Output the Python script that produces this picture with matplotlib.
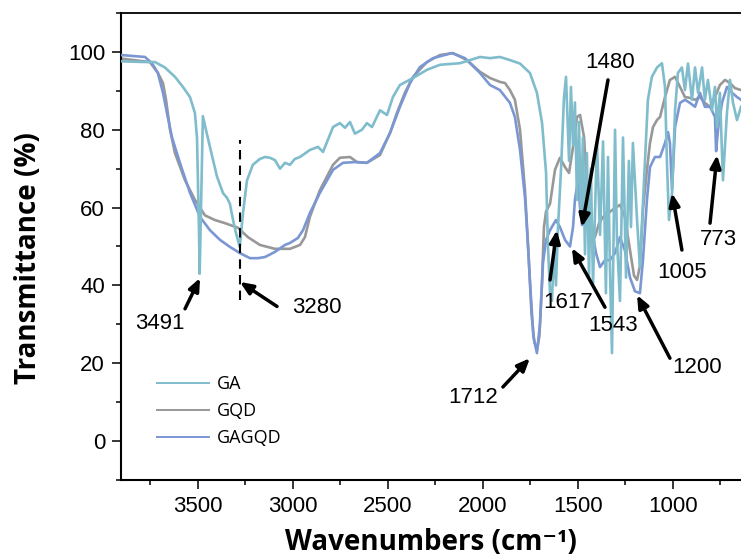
import matplotlib
matplotlib.use("Agg")
import matplotlib.pyplot as plt
from matplotlib.ticker import MultipleLocator

# ---------------- data ----------------
ga_wn = [3905, 3850, 3779, 3726, 3674, 3621, 3579, 3542, 3516, 3505, 3495, 3491, 3484, 3474,
         3458, 3437, 3400, 3368, 3347, 3332, 3316, 3300, 3280, 3263, 3242, 3211, 3174, 3147,
         3121, 3095, 3068, 3042, 3016, 2990, 2963, 2911, 2868, 2842, 2789, 2753, 2726, 2700,
         2674, 2637, 2611, 2584, 2542, 2505, 2474, 2437, 2368, 2295, 2226, 2121, 2016, 1963,
         1911, 1858, 1805, 1753, 1716, 1689, 1668, 1658, 1647, 1637, 1626, 1616, 1605, 1589,
         1574, 1563, 1553, 1547, 1537, 1526, 1516, 1505, 1495, 1484, 1474, 1463, 1453, 1442,
         1432, 1421, 1400, 1384, 1368, 1353, 1342, 1332, 1321, 1305, 1295, 1279, 1263, 1247,
         1232, 1221, 1211, 1189, 1174, 1147, 1132, 1111, 1084, 1058, 1042, 1032, 1021, 1005,
         989, 974, 953, 937, 921, 900, 884, 868, 847, 832, 816, 795, 779, 768, 753, 737, 716,
         700, 684, 663, 642]
ga_t = [97.6, 97.5, 97.4, 97.4, 96.0, 93.6, 91.0, 88.4, 84.3, 78.0, 55.0, 43.0, 60.0, 83.5,
        80.0, 75.6, 68.0, 63.7, 62.5, 61.0, 57.0, 53.5, 49.9, 58.6, 67.0, 71.0, 72.5, 73.0,
        72.8, 72.2, 70.0, 71.5, 71.0, 72.5, 73.0, 74.8, 75.6, 74.3, 80.7, 81.7, 80.5, 82.0,
        79.0, 80.0, 81.7, 80.7, 85.0, 83.8, 88.4, 91.5, 93.3, 95.4, 96.7, 97.1, 98.7, 98.4,
        98.7, 97.9, 97.0, 94.6, 89.5, 81.7, 69.0, 50.0, 38.0, 36.0, 50.0, 40.0, 55.0, 70.0,
        88.0, 93.6, 80.0, 72.0, 91.0, 76.0, 87.0, 62.0, 82.0, 58.0, 78.0, 48.0, 74.0, 42.0,
        70.0, 40.0, 77.0, 53.0, 77.0, 38.0, 73.0, 45.0, 22.6, 80.0, 52.0, 36.0, 78.0, 42.0,
        72.0, 55.0, 76.6, 56.8, 44.7, 72.0, 87.7, 93.6, 96.0, 97.1, 91.0, 72.0, 56.8, 63.7,
        85.0, 94.6, 96.0, 90.2, 97.0, 87.7, 96.0, 89.5, 96.0, 87.7, 92.8, 85.0, 91.0, 80.7,
        89.5, 67.0, 84.3, 92.8, 86.9, 82.5, 85.9]

gqd_wn = [3905, 3753, 3711, 3684, 3668, 3647, 3621, 3568, 3516, 3463, 3411, 3358, 3289, 3237,
          3174, 3095, 3016, 2963, 2937, 2911, 2858, 2789, 2753, 2700, 2663, 2611, 2542, 2489,
          2453, 2411, 2368, 2295, 2226, 2158, 2084, 2016, 1963, 1911, 1884, 1858, 1832, 1805,
          1779, 1760, 1745, 1730, 1716, 1703, 1690, 1679, 1668, 1647, 1621, 1595, 1568, 1547,
          1526, 1505, 1489, 1468, 1453, 1437, 1411, 1389, 1368, 1332, 1305, 1279, 1253, 1226,
          1205, 1189, 1174, 1158, 1137, 1121, 1105, 1084, 1068, 1042, 1016, 989, 963, 937, 911,
          884, 858, 832, 805, 779, 753, 726, 700, 674, 642]
gqd_t = [98.3, 97.4, 94.6, 92.0, 87.7, 80.0, 74.0, 67.0, 62.0, 58.0, 56.8, 56.0, 54.8, 52.4,
         50.4, 49.4, 49.4, 50.4, 52.4, 57.6, 64.5, 71.0, 72.8, 73.0, 71.7, 71.5, 73.5, 79.2,
         84.3, 89.5, 93.6, 97.4, 99.2, 99.7, 97.9, 94.9, 93.3, 92.3, 92.0, 90.2, 87.7, 80.0,
         64.5, 48.0, 33.0, 25.5, 23.4, 27.0, 40.0, 55.0, 59.0, 61.0, 69.7, 72.8, 70.4, 68.9,
         75.6, 83.3, 83.8, 78.1, 65.3, 57.6, 52.4, 56.0, 57.6, 58.9, 59.9, 60.7, 57.6, 49.0,
         42.5, 41.4, 45.0, 59.4, 69.7, 76.6, 80.7, 82.5, 83.3, 88.4, 92.8, 93.6, 91.0, 88.4,
         88.2, 87.7, 88.4, 86.9, 85.9, 88.4, 91.5, 92.8, 92.0, 90.7, 90.2]

gagqd_wn = [3905, 3779, 3742, 3711, 3684, 3663, 3637, 3595, 3542, 3489, 3437, 3384, 3332, 3279,
            3226, 3184, 3147, 3095, 3042, 3016, 2974, 2947, 2911, 2858, 2789, 2737, 2674, 2611,
            2542, 2489, 2437, 2384, 2332, 2263, 2163, 2095, 2016, 1963, 1911, 1858, 1832, 1805,
            1779, 1768, 1753, 1735, 1716, 1700, 1684, 1668, 1647, 1616, 1595, 1568, 1542, 1526,
            1516, 1500, 1489, 1479, 1468, 1463, 1453, 1442, 1426, 1405, 1384, 1358, 1332, 1305,
            1279, 1253, 1226, 1200, 1174, 1158, 1137, 1121, 1095, 1068, 1042, 1026, 1016, 1005,
            989, 963, 937, 911, 884, 858, 832, 805, 779, 773, 763, 742, 716, 689, 663, 642]
gagqd_t = [99.2, 98.7, 97.1, 94.6, 89.5, 84.3, 78.1, 71.5, 63.8, 57.6, 54.2, 51.7, 49.9, 48.3,
           47.0, 47.0, 47.3, 48.6, 50.4, 50.9, 52.2, 54.2, 58.6, 63.8, 69.7, 71.5, 71.7, 71.5,
           74.0, 79.2, 85.9, 92.0, 96.1, 98.4, 99.7, 98.4, 94.6, 91.5, 90.2, 86.9, 83.3, 74.8,
           62.7, 54.2, 41.4, 27.0, 22.6, 30.0, 45.8, 51.7, 54.2, 56.8, 55.0, 51.7, 50.0, 55.0,
           62.0, 67.0, 60.0, 55.5, 63.0, 66.3, 60.0, 55.0, 54.0, 48.3, 44.7, 46.5, 46.5, 48.3,
           52.4, 49.0, 42.0, 38.5, 38.0, 46.5, 62.0, 70.4, 73.0, 73.0, 76.6, 79.4, 76.6, 64.5,
           80.7, 86.9, 87.7, 86.9, 85.9, 89.5, 85.9, 85.9, 83.3, 74.5, 80.0, 86.9, 91.0, 89.5,
           88.4, 87.7]

series_names = ["GA", "GQD", "GAGQD"]
series_colors = ["#7fbccc", "#989898", "#7b97d3"]

# annotations: label, text position, arrow tail, arrow tip  (wavenumber, %T)
ann_labels = ["3491", "3280", "1712", "1617", "1543", "1480", "1005", "773", "1200"]
ann_text = [(3700, 30.3), (2874, 34.4), (2053, 11.3), (1553, 35.7), (1316, 29.8),
            (1332, 97.4), (953, 43.4), (763, 51.7), (874, 19.0)]
ann_tail = [(3568, 34.0), (3084, 34.6), (1895, 13.9), (1647, 41.4), (1358, 34.4),
            (1342, 92.8), (953, 49.1), (805, 56.0), (1016, 21.3)]
ann_tip = [(3489, 41.9), (3279, 40.9), (1753, 21.3), (1611, 54.2), (1532, 49.6),
           (1479, 55.0), (1005, 63.7), (768, 73.5), (1189, 37.5)]

dash_x = 3280
dash_y = (36.2, 77.4)

x_ticks = [3500, 3000, 2500, 2000, 1500, 1000]
y_ticks = [0, 20, 40, 60, 80, 100]

# ---------------- figure ----------------
fig = plt.figure(figsize=(7.41, 5.59), dpi=100)
ax = fig.add_axes([121 / 741, 1 - 480 / 559, 620 / 741, 467 / 559])

wns = [ga_wn, gqd_wn, gagqd_wn]
ts = [ga_t, gqd_t, gagqd_t]
zorders = [4, 2, 3]
for wn, t, name, col, z in zip(wns, ts, series_names, series_colors, zorders):
    ax.plot(wn, t, color=col, lw=1.9, label=name, zorder=z, solid_joinstyle="round")

ax.plot([dash_x, dash_x], dash_y, color="black", lw=1.5, ls=(0, (4.5, 3)), zorder=5)

for lab, tp, tl, tip in zip(ann_labels, ann_text, ann_tail, ann_tip):
    ax.annotate("", xy=tip, xytext=tl,
                arrowprops=dict(arrowstyle="-|>,head_length=0.75,head_width=0.32", color="black",
                                lw=2.5, shrinkA=0, shrinkB=0), zorder=6)
    ax.text(tp[0], tp[1], lab, ha="center", va="center", fontsize=16,
            family="Liberation Sans", zorder=6)

ax.set_xlim(3905, 642)
ax.set_ylim(-10, 110)
ax.set_xticks(x_ticks)
ax.set_yticks(y_ticks)
ax.xaxis.set_minor_locator(MultipleLocator(250))
ax.yaxis.set_minor_locator(MultipleLocator(10))
ax.tick_params(which="major", direction="out", length=6.5, width=1.1, labelsize=16, pad=5)
ax.tick_params(which="minor", direction="out", length=3.8, width=1.1)
ax.tick_params(top=False, right=False, which="both")
for lb in ax.get_xticklabels() + ax.get_yticklabels():
    lb.set_family("Liberation Sans")

ax.spines["right"].set_visible(False)
ax.spines["left"].set_linewidth(1.5)
ax.spines["bottom"].set_linewidth(1.5)
ax.spines["top"].set_linewidth(1.3)

ax.set_xlabel("Wavenumbers (cm\u207b\u00b9)", fontsize=20, fontweight="bold",
              family=["Open Sans", "DejaVu Sans"], labelpad=8)
ax.set_ylabel("Transmittance (%)", fontsize=20, fontweight="bold",
              family=["Open Sans", "DejaVu Sans"])
ax.yaxis.set_label_coords(-0.125, 0.475)

leg = ax.legend(loc="upper left", bbox_to_anchor=(0.058, 0.225), frameon=False,
                prop={"family": "Open Sans", "size": 13}, handlelength=2.9,
                handletextpad=0.4, labelspacing=0.5, borderpad=0, borderaxespad=0)
for h in leg.get_lines():
    h.set_linewidth(1.4)

fig.savefig("out.png", dpi=100)
